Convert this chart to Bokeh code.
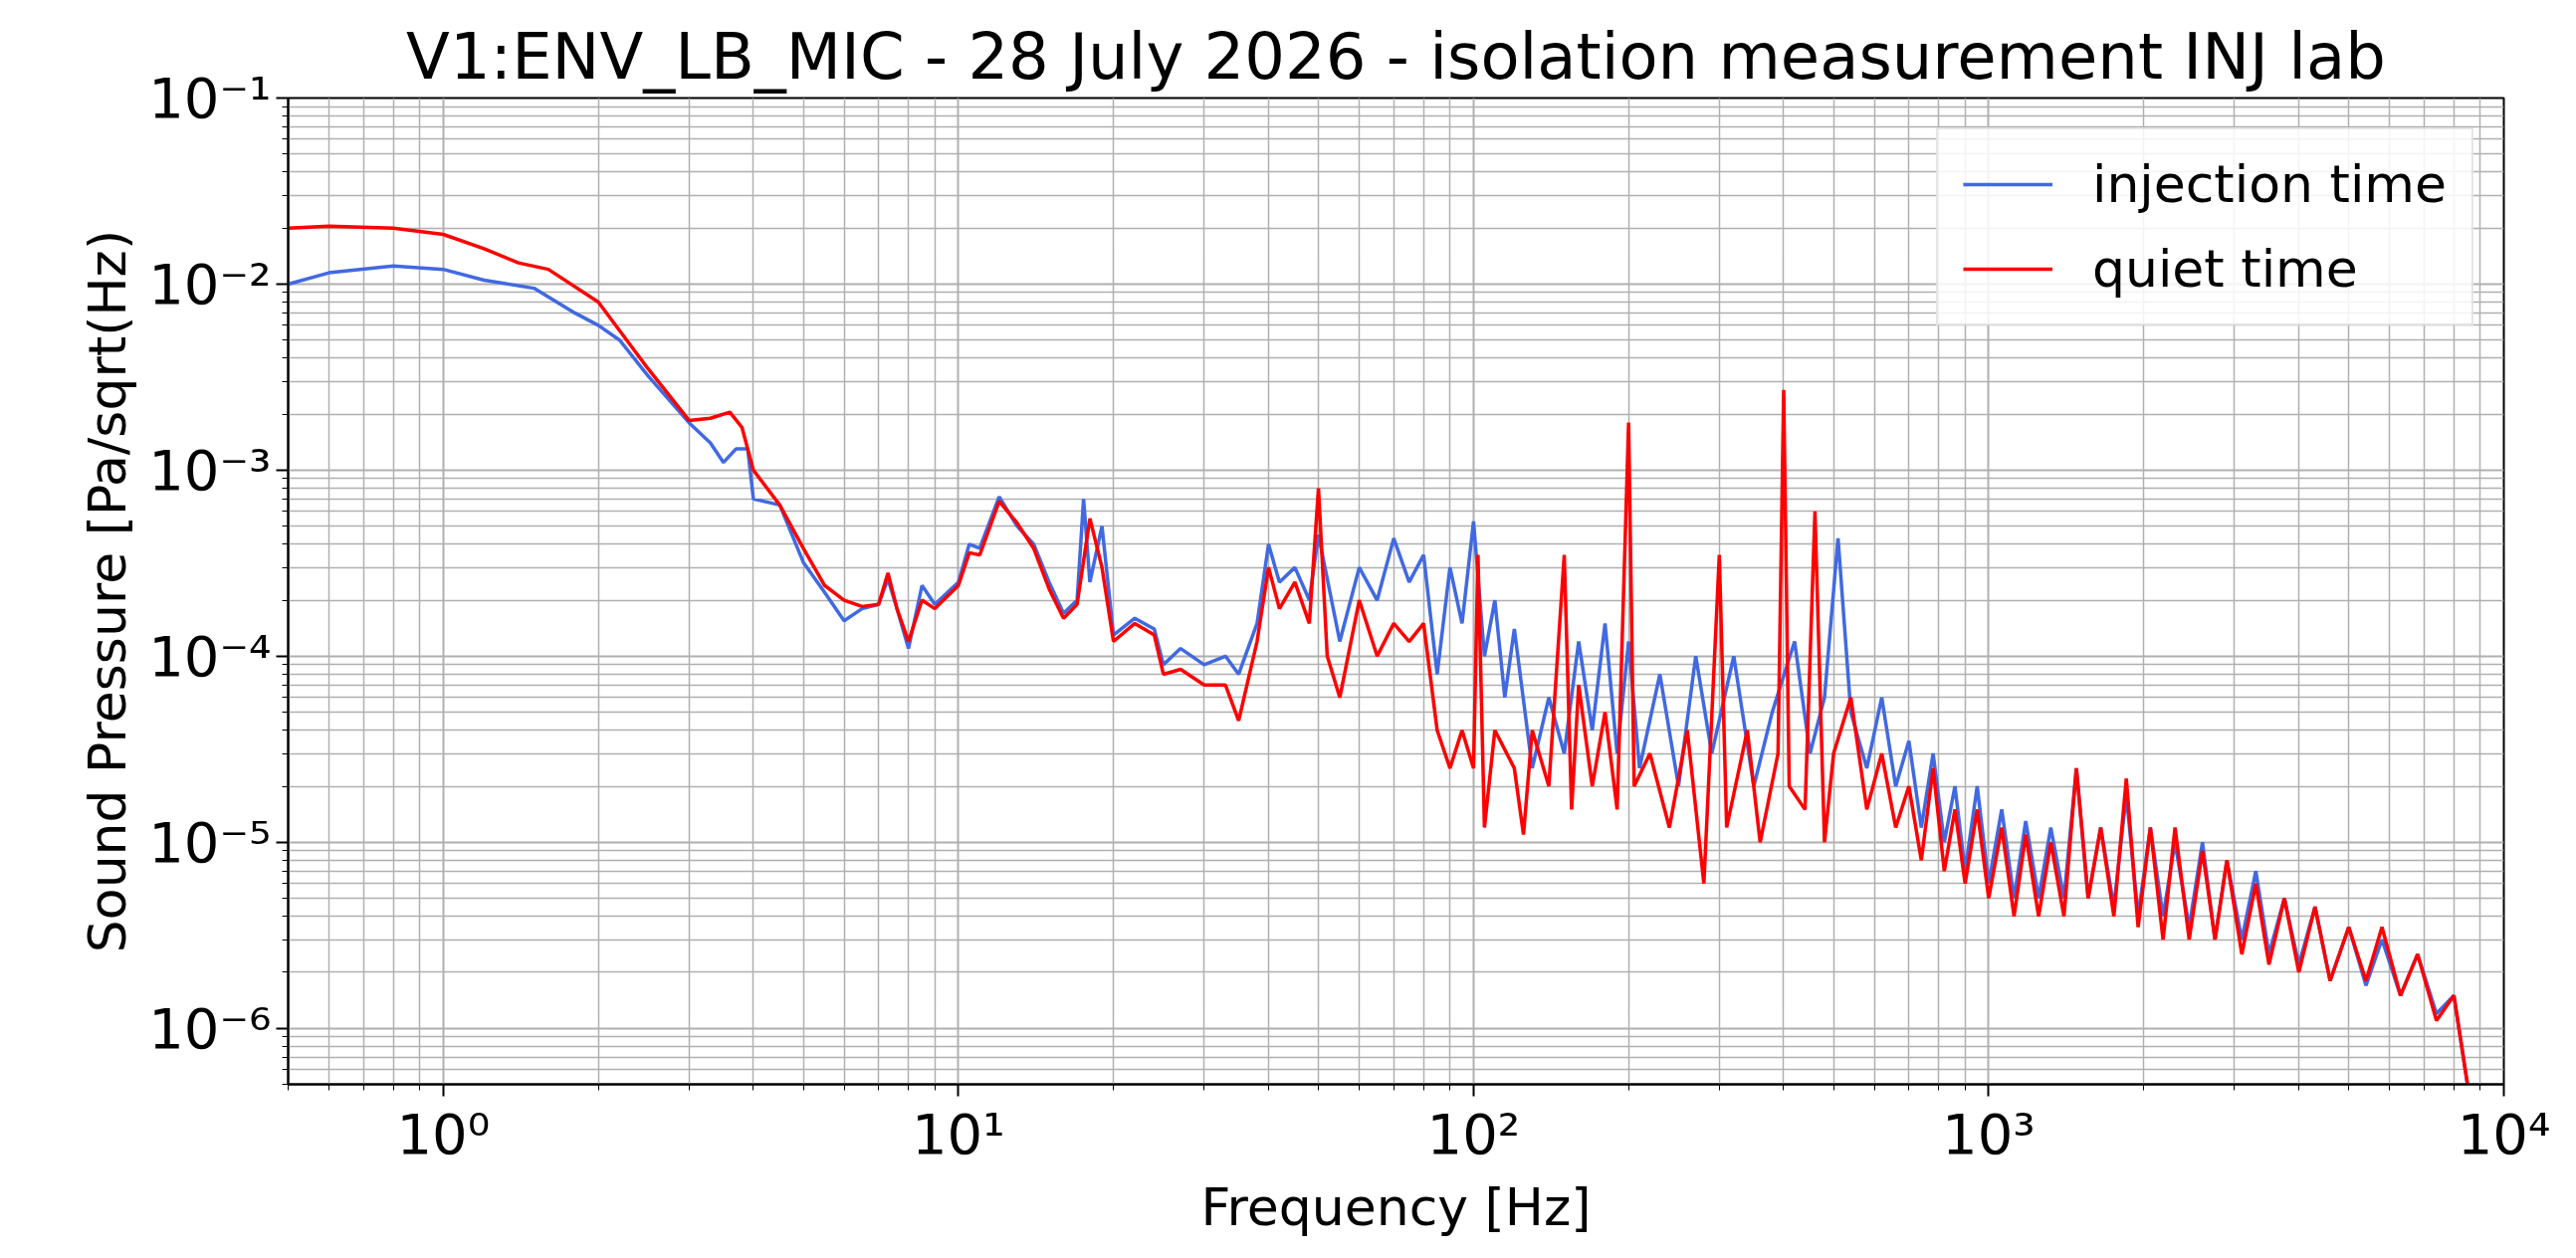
from bokeh.plotting import figure
from bokeh.models import Legend, LegendItem, FixedTicker
from bokeh.embed import file_html
from bokeh.resources import INLINE

inj_lo_f = [0.5,0.6,0.8,1.0,1.2,1.5,1.8,2.0,2.2,2.5,3.0,3.3,3.5,3.7,3.9,4.0,4.5,5,5.5,6,6.5,7,7.3,7.6,8,8.5,9,10,10.5,11,12,13,14,15,16,17,17.5,18,19,20,22,24,25,27,30,33,35,38,40,42,45,48,50,55,60,65,70,75,80,85,90,95,100,105,110,115,120,130,140,150,160,170,180,190,200,210,230,250,270,290,320,350,380,420,450,480,510,540,580,620,660]
inj_lo_v = [1.0e-2,1.15e-2,1.25e-2,1.2e-2,1.05e-2,9.5e-3,7e-3,6e-3,5e-3,3.2e-3,1.8e-3,1.4e-3,1.1e-3,1.3e-3,1.3e-3,7e-4,6.5e-4,3.2e-4,2.2e-4,1.55e-4,1.8e-4,1.9e-4,2.6e-4,1.8e-4,1.1e-4,2.4e-4,1.9e-4,2.5e-4,4e-4,3.8e-4,7.2e-4,5e-4,4e-4,2.5e-4,1.7e-4,2.0e-4,7e-4,2.5e-4,5e-4,1.3e-4,1.6e-4,1.4e-4,9e-5,1.1e-4,9e-5,1.0e-4,8e-5,1.5e-4,4e-4,2.5e-4,3e-4,2e-4,4.5e-4,1.2e-4,3e-4,2e-4,4.3e-4,2.5e-4,3.5e-4,8e-5,3e-4,1.5e-4,5.3e-4,1.0e-4,2e-4,6e-5,1.4e-4,2.5e-5,6e-5,3e-5,1.2e-4,4e-5,1.5e-4,3e-5,1.2e-4,2.5e-5,8e-5,2e-5,1e-4,3e-5,1.0e-4,2e-5,5e-5,1.2e-4,3e-5,6e-5,4.3e-4,5e-5,2.5e-5,6e-5,2e-5]

qt_lo_f = [0.5,0.6,0.8,1.0,1.2,1.4,1.6,2.0,2.5,3.0,3.3,3.6,3.8,4.0,4.5,5,5.5,6,6.5,7,7.3,7.6,8,8.5,9,10,10.5,11,12,13,14,15,16,17,18,19,20,22,24,25,27,30,33,35,38,40,42,45,48,50,52,55,60,65,70,75,80,85,90,95,100,102,105,110,120,125,130,140,150,155,160,170,180,190,200,205,220,240,260,280,300,310,340,360,390,400,410,440,460,480,500,540,580,620,660]
qt_lo_v = [2e-2,2.05e-2,2.0e-2,1.85e-2,1.55e-2,1.3e-2,1.2e-2,8e-3,3.5e-3,1.85e-3,1.9e-3,2.05e-3,1.7e-3,1.0e-3,6.5e-4,3.8e-4,2.4e-4,2.0e-4,1.85e-4,1.9e-4,2.8e-4,1.8e-4,1.2e-4,2.0e-4,1.8e-4,2.4e-4,3.6e-4,3.5e-4,6.8e-4,5.2e-4,3.8e-4,2.3e-4,1.6e-4,1.9e-4,5.5e-4,3e-4,1.2e-4,1.5e-4,1.3e-4,8e-5,8.5e-5,7e-5,7e-5,4.5e-5,1.2e-4,3e-4,1.8e-4,2.5e-4,1.5e-4,8e-4,1e-4,6e-5,2e-4,1e-4,1.5e-4,1.2e-4,1.5e-4,4e-5,2.5e-5,4e-5,2.5e-5,3.5e-4,1.2e-5,4e-5,2.5e-5,1.1e-5,4e-5,2e-5,3.5e-4,1.5e-5,7e-5,2e-5,5e-5,1.5e-5,1.8e-3,2e-5,3e-5,1.2e-5,4e-5,6e-6,3.5e-4,1.2e-5,4e-5,1.0e-5,3e-5,2.7e-3,2e-5,1.5e-5,6e-4,1e-5,3e-5,6e-5,1.5e-5,3e-5,1.2e-5]

hi_f = [700,740,780,820,860,900,950,1000,1060,1120,
        1180,1250,1320,1400,1480,1560,1650,1750,1850,1950,
        2060,2180,2300,2450,2600,2750,2900,3100,3300,3500,
        3750,4000,4300,4600,5000,5400,5800,6300,6800,7400,
        8000,8500]
inj_hi_v = [3.5e-5,1.2e-5,3e-5,1e-5,2e-5,7e-6,2e-5,6e-6,1.5e-5,5e-6,
            1.3e-5,5e-6,1.2e-5,5e-6,2.5e-5,5e-6,1.2e-5,4.5e-6,1.8e-5,4e-6,
            1.2e-5,4e-6,1e-5,3.5e-6,1e-5,3e-6,8e-6,3e-6,7e-6,2.5e-6,
            5e-6,2.2e-6,4.5e-6,1.8e-6,3.5e-6,1.7e-6,3e-6,1.5e-6,2.5e-6,1.2e-6,
            1.5e-6,5e-7]
qt_hi_v = [2e-5,8e-6,2.5e-5,7e-6,1.5e-5,6e-6,1.5e-5,5e-6,1.2e-5,4e-6,
           1.1e-5,4e-6,1e-5,4e-6,2.5e-5,5e-6,1.2e-5,4e-6,2.2e-5,3.5e-6,
           1.2e-5,3e-6,1.2e-5,3e-6,9e-6,3e-6,8e-6,2.5e-6,6e-6,2.2e-6,
           5e-6,2e-6,4.5e-6,1.8e-6,3.5e-6,1.8e-6,3.5e-6,1.5e-6,2.5e-6,1.1e-6,
           1.5e-6,5e-7]

inj_f = inj_lo_f + hi_f
inj_v = inj_lo_v + inj_hi_v
qt_f = qt_lo_f + hi_f
qt_v = qt_lo_v + qt_hi_v

title = "V1:ENV_LB_MIC - 28 July 2026 - isolation measurement INJ lab"
FONT = "DejaVu Sans"

p = figure(width=2570, height=1245, x_axis_type="log", y_axis_type="log",
           x_range=(0.5, 1e4), y_range=(5e-7, 1e-1),
           output_backend="svg", toolbar_location=None,
           min_border_left=289, min_border_right=55, min_border_top=98, min_border_bottom=130)
p.title.text = title
p.title.text_font = FONT
p.title.text_font_size = "64px"
p.title.text_font_style = "normal"
p.title.text_color = "black"
p.title.align = "center"
p.outline_line_color = "black"
p.outline_line_width = 2

l1 = p.line(inj_f, inj_v, line_color="#4169e1", line_width=3.5)
l2 = p.line(qt_f, qt_v, line_color="#ff0000", line_width=3.5)

sup = {"-": "⁻", "0": "⁰", "1": "¹", "2": "²", "3": "³", "4": "⁴", "5": "⁵", "6": "⁶"}
def lab(n):
    return "10" + "".join(sup[c] for c in str(n))

p.xaxis.ticker = FixedTicker(ticks=[1, 10, 100, 1000, 10000],
    minor_ticks=[m * 10.0**e for e in range(-1, 4) for m in range(2, 10)])
p.yaxis.ticker = FixedTicker(ticks=[10.0**e for e in range(-6, 0)],
    minor_ticks=[m * 10.0**e for e in range(-7, -1) for m in range(2, 10)])
p.xaxis.major_label_overrides = {v: lab(e) for v, e in [(1,0),(10,1),(100,2),(1000,3),(10000,4)]}
p.yaxis.major_label_overrides = {10.0**e: lab(e) for e in range(-6, 0)}

for ax in (p.xaxis[0], p.yaxis[0]):
    ax.major_label_text_font = FONT
    ax.major_label_text_font_size = "56px"
    ax.major_label_text_color = "black"
    ax.axis_label_text_font = FONT
    ax.axis_label_text_font_size = "52px"
    ax.axis_label_text_font_style = "normal"
    ax.axis_label_text_color = "black"
    ax.major_tick_line_width = 2
    ax.major_tick_out = 12
    ax.major_tick_in = 0
    ax.minor_tick_out = 6
    ax.minor_tick_in = 0
    ax.axis_line_width = 2
    ax.axis_label_standoff = 8
p.xaxis.axis_label = "Frequency [Hz]"
p.yaxis.axis_label = "Sound Pressure [Pa/sqrt(Hz)"

for g in (p.xgrid[0], p.ygrid[0]):
    g.grid_line_color = "#b0b0b0"
    g.grid_line_width = 2
    g.minor_grid_line_color = "#b0b0b0"
    g.minor_grid_line_width = 1.5

leg = Legend(items=[LegendItem(label="injection time", renderers=[l1]),
                    LegendItem(label="quiet time", renderers=[l2])],
             location="top_right")
leg.label_text_font = FONT
leg.label_text_font_size = "52px"
leg.label_text_color = "black"
leg.glyph_width = 90
leg.glyph_height = 60
leg.label_standoff = 40
leg.spacing = 25
leg.padding = 25
leg.margin = 30
leg.border_line_color = "#cccccc"
leg.border_line_width = 2
leg.background_fill_alpha = 0.85
p.add_layout(leg)

open("out.html", "w").write(file_html(p, INLINE))
